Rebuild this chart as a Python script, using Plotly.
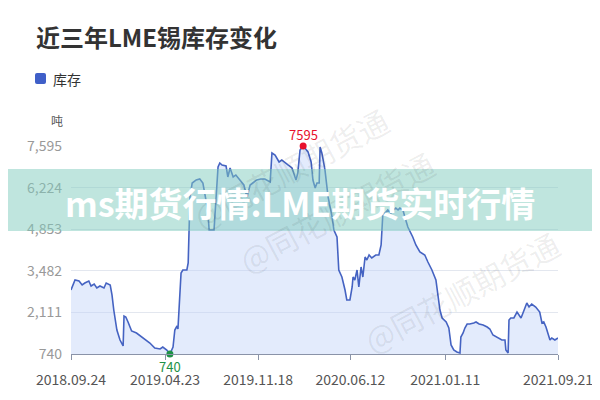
import plotly.graph_objects as go
import numpy as np

dates = ["2018-09-24","2018-10-03","2018-10-12","2018-10-19","2018-10-25","2018-11-03","2018-11-08","2018-11-15","2018-11-21","2018-11-28",
"2018-12-07","2018-12-12","2018-12-21","2018-12-25","2018-12-29","2019-01-05","2019-01-12","2019-01-19","2019-01-21","2019-01-25",
"2019-01-30","2019-02-02","2019-02-07","2019-02-18","2019-03-02","2019-03-09","2019-03-20","2019-03-31","2019-04-12","2019-04-18",
"2019-04-27","2019-05-04","2019-05-11","2019-05-15","2019-05-20","2019-05-22","2019-05-24","2019-05-29","2019-06-02","2019-06-11",
"2019-06-14","2019-06-18","2019-06-23","2019-07-02","2019-07-10","2019-07-17","2019-07-28","2019-07-31","2019-08-11","2019-08-13",
"2019-08-20","2019-08-24","2019-08-29","2019-09-07","2019-09-11","2019-09-16","2019-09-23","2019-09-29","2019-10-08","2019-10-17",
"2019-10-24","2019-10-31","2019-11-06","2019-11-15","2019-11-24","2019-12-03","2019-12-15","2019-12-19","2019-12-26","2020-01-04",
"2020-01-10","2020-01-17","2020-01-24","2020-02-02","2020-02-11","2020-02-15","2020-02-20","2020-02-27","2020-03-04","2020-03-09",
"2020-03-16","2020-03-20","2020-03-25","2020-03-29","2020-04-03","2020-04-05","2020-04-09","2020-04-16","2020-04-23","2020-05-02",
"2020-05-06","2020-05-13","2020-05-17","2020-05-24","2020-05-31","2020-06-04","2020-06-11","2020-06-16","2020-06-18","2020-06-22",
"2020-06-27","2020-07-01","2020-07-06","2020-07-10","2020-07-15","2020-07-19","2020-07-24","2020-07-30","2020-08-08","2020-08-15",
"2020-08-20","2020-08-22","2020-08-24","2020-08-29","2020-09-04","2020-09-11","2020-09-16","2020-09-22","2020-09-27","2020-10-01",
"2020-10-08","2020-10-13","2020-10-19","2020-10-30","2020-11-06","2020-11-15","2020-11-26","2020-12-03","2020-12-12","2020-12-21",
"2020-12-23","2020-12-30","2021-01-04","2021-01-13","2021-01-19","2021-01-24","2021-01-30","2021-02-06","2021-02-13","2021-02-15",
"2021-02-20","2021-02-24","2021-03-01","2021-03-07","2021-03-16","2021-03-21","2021-03-28","2021-04-06","2021-04-15","2021-04-21",
"2021-04-28","2021-05-05","2021-05-11","2021-05-18","2021-05-25","2021-05-27","2021-06-01","2021-06-03","2021-06-07","2021-06-14",
"2021-06-21","2021-06-25","2021-06-30","2021-07-07","2021-07-13","2021-07-18","2021-07-24","2021-08-02","2021-08-11","2021-08-16",
"2021-08-20","2021-08-25","2021-08-29","2021-09-03","2021-09-07","2021-09-14","2021-09-21"]

stock = [2849,3179,3146,3014,3080,3146,2981,3047,2915,2981,
2915,3080,3014,2685,2190,1531,1201,1004,1992,1960,
1795,1696,1498,1432,1300,1201,1103,938,905,971,
872,740,971,1531,1663,1564,2190,3410,3509,3509,
3739,5915,6376,6475,6508,6376,5486,4827,4827,5387,
6903,7035,6969,6936,6574,6871,6574,6640,6475,6310,
5915,6310,6376,6475,6508,6508,6409,7365,7299,7068,
7134,7035,6969,6871,6475,6706,7464,7595,7464,7398,
7068,6475,6211,6376,6376,7563,7365,6805,5915,5256,
4827,4596,3509,3278,2849,2520,2520,2948,3278,3179,
3509,2948,3608,3278,3937,3838,4003,3904,4003,4003,
4333,4827,5387,5387,5486,5387,5486,5552,5486,5552,
5486,5223,4926,4596,4333,4102,4003,3772,3509,3179,
2948,2190,1927,1795,1597,1037,872,806,773,1300,
1432,1597,1729,1729,1762,1795,1729,1696,1630,1564,
1366,1300,1267,1201,1201,872,773,1861,1927,1927,
2124,2025,1927,2190,2421,2289,2388,2289,2124,1762,
1795,1630,1432,1201,1267,1201,1267]

tick_dates = ["2018-09-24","2019-04-23","2019-11-18","2020-06-12","2021-01-11","2021-09-21"]
tick_labels = ["2018.09.24","2019.04.23","2019.11.18","2020.06.12","2021.01.11","2021.09.21"]
y_ticks = [740, 2111, 3482, 4853, 6224, 7595]

title_text = "近三年LME锡库存变化"
series_name = "库存"
unit_text = "吨"
banner_text = "ms期货行情:LME期货实时行情"
watermark_text = "@同花顺期货通"

FONT = "Noto Sans CJK SC, Noto Sans, sans-serif"
LINE = "#4563c2"

# page body has an 8px margin: figure is 592x392 placed at (8,8)
OFF = 8
L, R, T, B = 71 - OFF, 42, 146 - OFF, 46
W, H = 600 - OFF, 400 - OFF
PW, PH = W - L - R, H - T - B
def px(x):  # x in screenshot pixels
    return (x - 71) / PW
def py(y):
    return (354 - y) / PH

fig = go.Figure()
fig.add_trace(go.Scatter(x=dates, y=stock, mode="lines", name=series_name,
                         line=dict(color=LINE, width=1.6),
                         fill="tozeroy", fillcolor="rgba(188,208,247,0.42)",
                         showlegend=False))

imax = int(np.argmax(stock)); imin = int(np.argmin(stock))
fig.add_trace(go.Scatter(x=[dates[imax]], y=[stock[imax]], mode="markers",
                         marker=dict(color="#e8112d", size=7),
                         showlegend=False, cliponaxis=False))
fig.add_trace(go.Scatter(x=[dates[imin]], y=[stock[imin]], mode="markers",
                         marker=dict(color="#1e9147", size=7),
                         showlegend=False, cliponaxis=False))

annotations = [
    dict(text="<b>" + title_text + "</b>", x=px(34), y=py(36), xref="paper", yref="paper",
         xanchor="left", yanchor="middle", showarrow=False,
         font=dict(size=24, color="#333333", family=FONT)),
    dict(text=series_name, x=px(51), y=py(79), xref="paper", yref="paper",
         xanchor="left", yanchor="middle", showarrow=False,
         font=dict(size=14, color="#333333", family=FONT)),
    dict(text=unit_text, x=px(57), y=py(120), xref="paper", yref="paper",
         xanchor="center", yanchor="middle", showarrow=False,
         font=dict(size=12, color="#555555", family=FONT)),
    dict(text=str(stock[imax]), x=dates[imax], y=stock[imax], xref="x", yref="y",
         yshift=12, showarrow=False, xanchor="center", yanchor="middle",
         font=dict(size=13, color="#e8112d", family=FONT)),
    dict(text=str(stock[imin]), x=dates[imin], y=stock[imin], xref="x", yref="y",
         yshift=-12, showarrow=False, xanchor="center", yanchor="middle",
         font=dict(size=13, color="#1e9147", family=FONT)),
]
for (wx, wy) in [(290, 95), (445, 285), (570, 365)]:
    annotations.append(dict(text=watermark_text, x=px(wx), y=py(wy), xref="paper", yref="paper",
                            showarrow=False, textangle=-28,
                            font=dict(size=31, color="rgba(0,0,0,0.075)", family=FONT)))
annotations.append(dict(text="<b>" + banner_text + "</b>", x=px(300), y=py(202), xref="paper", yref="paper",
                        xanchor="center", yanchor="middle", showarrow=False,
                        font=dict(size=34, color="white", family=FONT)))

a, b, c, d, r = px(35), py(73), px(46), py(84), 2.0 / PW
ry = 2.0 / PH
legend_path = ("M {x0},{y0} L {x1},{y0} Q {c},{b} {c},{y2} L {c},{y3} Q {c},{d} {x1},{d} "
               "L {x0},{d} Q {a},{d} {a},{y3} L {a},{y2} Q {a},{b} {x0},{b} Z").format(
    x0=a + r, x1=c - r, y0=b, y2=b - ry, y3=d + ry, a=a, b=b, c=c, d=d)

shapes = [
    dict(type="path", xref="paper", yref="paper", layer="above",
         path=legend_path, fillcolor="#3f5fc8", line=dict(width=0)),
    dict(type="rect", xref="paper", yref="paper", layer="above",
         x0=px(0), x1=px(600), y0=py(231), y1=py(169),
         fillcolor="rgba(128,203,190,0.5)", line=dict(width=0)),
]

fig.update_layout(
    width=W, height=H,
    margin=dict(l=L, r=R, t=T, b=B, autoexpand=False),
    paper_bgcolor="white", plot_bgcolor="white",
    font=dict(family=FONT),
    annotations=annotations, shapes=shapes,
    xaxis=dict(type="date", range=[tick_dates[0], tick_dates[-1]],
               tickvals=tick_dates, ticktext=tick_labels,
               tickfont=dict(size=14, color="#555555"),
               showgrid=False, showline=True, linecolor="#8a93a8", linewidth=1,
               ticks="outside", ticklen=5, tickcolor="#8a93a8", zeroline=False,
               ticklabelstandoff=8),
    yaxis=dict(range=[740, 7595], tickvals=y_ticks, tickformat=",",
               tickfont=dict(size=14, color="#999999"),
               showgrid=True, gridcolor="#e3e7ef", gridwidth=1,
               zeroline=False, showline=False, ticks="", ticklabelstandoff=8),
)

fig.write_html("out.html")
